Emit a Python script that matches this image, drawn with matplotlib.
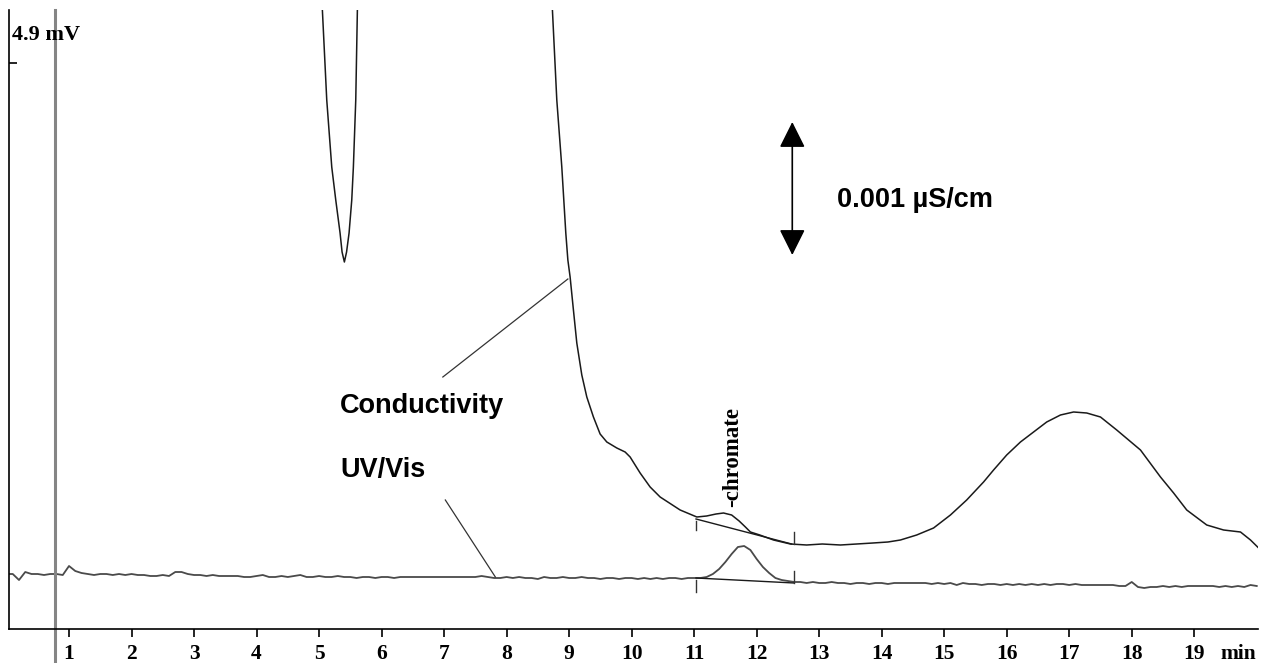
import numpy as np
import matplotlib.pyplot as plt
from matplotlib.transforms import blended_transform_factory

# detector signals, in display units (0 = bottom of frame, 619 = top of frame)
uv_t = np.round(np.arange(0.0, 20.01, 0.1), 1)
uv_signal = [
    55, 55, 49, 57, 55, 55, 54, 55, 55, 54,
    63, 58, 56, 55, 54, 55, 55, 54, 55, 54,
    55, 54, 54, 53, 53, 54, 53, 57, 57, 55,
    54, 54, 53, 54, 53, 53, 53, 53, 52, 52,
    53, 54, 52, 52, 53, 52, 53, 54, 52, 52,
    53, 52, 52, 53, 52, 52, 51, 52, 52, 51,
    52, 52, 51, 52, 52, 52, 52, 52, 52, 52,
    52, 52, 52, 52, 52, 52, 53, 52, 51, 51,
    52, 51, 52, 51, 51, 50, 52, 51, 51, 52,
    51, 51, 52, 51, 51, 50, 51, 51, 50, 51,
    51, 50, 51, 50, 51, 50, 51, 51, 50, 51,
    51, 51, 52, 55, 60, 67, 75, 82, 83, 79,
    70, 62, 56, 51, 49, 48, 47, 47, 46, 47,
    46, 46, 47, 46, 46, 45, 46, 46, 45, 46,
    46, 45, 46, 46, 46, 46, 46, 46, 45, 46,
    45, 46, 44, 46, 45, 45, 44, 45, 45, 44,
    45, 44, 45, 44, 45, 44, 45, 44, 45, 45,
    44, 45, 44, 44, 44, 44, 44, 44, 43, 43,
    47, 42, 41, 42, 42, 43, 42, 43, 42, 43,
    43, 43, 43, 43, 42, 43, 42, 43, 42, 44,
    43,
]

# conductivity goes off scale (values > 619) around the water dip and the system peak
cond_t = [4.80, 5.053, 5.123, 5.203, 5.267, 5.336, 5.368, 5.405, 5.44, 5.48,
          5.523, 5.549, 5.587, 5.613, 5.85,
          8.55, 8.733, 8.803, 8.883, 8.947, 8.98, 9.016, 9.069, 9.123, 9.203,
          9.283, 9.389, 9.496, 9.603, 9.763, 9.896, 9.976, 10.136, 10.296, 10.456,
          10.776, 11.043, 11.20, 11.35, 11.47, 11.60, 11.72, 11.82, 11.90, 12.05,
          12.27, 12.54, 12.80, 13.05, 13.34, 13.60, 13.86, 14.10, 14.30, 14.56,
          14.83, 15.10, 15.36, 15.63, 15.79, 16.00, 16.22, 16.43, 16.64, 16.86,
          17.07, 17.28, 17.50, 17.76, 18.14, 18.46, 18.67, 18.88, 19.20, 19.47,
          19.74, 19.90, 20.03]
cond_signal = [1000, 619, 529, 462, 429, 396, 377, 367, 377, 396,
               429, 462, 529, 619, 1000,
               1000, 619, 529, 462, 396, 369, 352, 319, 286, 254,
               232, 212, 195, 187, 181, 177, 172, 156, 142, 132,
               119, 112, 113, 115, 116, 114, 108, 102, 97, 94,
               89, 85, 84, 85, 84, 85, 86, 87, 89, 94,
               101, 114, 129, 147, 159, 174, 187, 197, 207, 214,
               217, 216, 212, 199, 179, 152, 136, 119, 104, 99,
               97, 89, 81]

# integration of the chromate peak: start/end times and baseline levels
cond_base_t = [11.03, 12.56]
cond_base = [110, 85]
uv_base_t = [11.03, 12.60]
uv_base = [51, 46]

x_ticks = list(range(1, 20))
inject_t = 0.77

serif = ['Liberation Serif', 'DejaVu Serif']
sans = ['Liberation Sans', 'DejaVu Sans']

fig = plt.figure(figsize=(12.67, 6.63), dpi=100)
ax = fig.add_axes([9 / 1267, 34 / 663, 1249 / 1267, 619 / 663])
ax.set_xlim(0.04, 20.02)
ax.set_ylim(0, 619)

ax.plot(uv_t, uv_signal, color='#4a4a4a', lw=1.3)
ax.plot(cond_t, cond_signal, color='#1a1a1a', lw=1.1)

# peak baselines and start/stop marks
ax.plot(cond_base_t, cond_base, color='#1a1a1a', lw=1.0)
ax.plot(uv_base_t, uv_base, color='#1a1a1a', lw=1.0)
ax.plot([11.03, 11.03], [108, 99], color='#333333', lw=1.0)
ax.plot([12.60, 12.60], [97, 85], color='#333333', lw=1.0)
ax.plot([11.03, 11.03], [49, 37], color='#333333', lw=1.0)
ax.plot([12.60, 12.60], [58, 46], color='#333333', lw=1.0)

# injection marker, runs past the frame
ax.plot([inject_t, inject_t], [-60, 619], color='#858585', lw=2.2, clip_on=False)

# leader lines for the trace labels
ax.plot([6.98, 8.98], [252, 350], color='#333333', lw=0.9)
ax.plot([7.02, 7.82], [129, 52], color='#333333', lw=0.9)

ax.text(5.34, 216, 'Conductivity', family=sans, fontweight='bold', fontsize=19.5, va='baseline')
ax.text(5.34, 152, 'UV/Vis', family=sans, fontweight='bold', fontsize=19.5, va='baseline')
ax.text(13.29, 422, '0.001 µS/cm', family=sans, fontweight='bold', fontsize=19.5, va='baseline')
ax.text(11.62, 122, '-chromate', family=serif, fontweight='bold', fontsize=16.5,
        rotation=90, ha='center', va='bottom')
ax.text(0.09, 589, '4.9 mV', family=serif, fontweight='bold', fontsize=16, va='baseline')

# scale bar
ax.annotate('', xy=(12.57, 507), xytext=(12.57, 374),
            arrowprops=dict(arrowstyle='<|-|>,head_length=1.6,head_width=0.8',
                            mutation_scale=10, color='black', lw=1.2,
                            shrinkA=0, shrinkB=0))

for side in ['top', 'right']:
    ax.spines[side].set_visible(False)
for side in ['left', 'bottom']:
    ax.spines[side].set_linewidth(1.2)

ax.set_xticks(x_ticks)
ax.set_xticklabels([str(t) for t in x_ticks], family=serif, fontweight='bold', fontsize=15.5)
ax.tick_params(axis='x', direction='out', length=6, width=1.2, pad=5)
ax.set_yticks([566])
ax.set_yticklabels([])
ax.tick_params(axis='y', direction='in', length=6, width=1.2)

trans = blended_transform_factory(ax.transData, ax.transAxes)
ax.annotate('min', xy=(19.70, 0), xycoords=trans, xytext=(0, -11), textcoords='offset points',
            ha='center', va='top', family=serif, fontweight='bold', fontsize=15.5)

fig.savefig('out.png', dpi=100)
